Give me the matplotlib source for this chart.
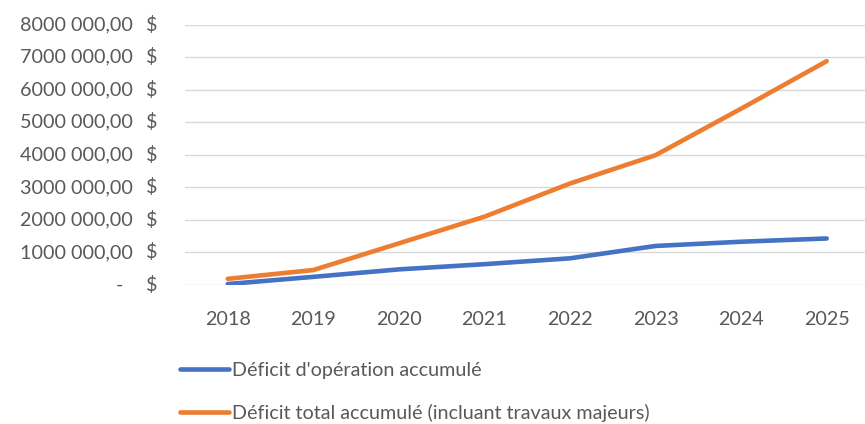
import matplotlib
matplotlib.use('Agg')
import matplotlib.pyplot as plt

years = ['2018', '2019', '2020', '2021', '2022', '2023', '2024', '2025']
deficit_operation = [30000, 250000, 480000, 640000, 820000, 1200000, 1330000, 1430000]
deficit_total = [190000, 460000, 1280000, 2100000, 3120000, 3990000, 5420000, 6880000]
series_labels = ["Déficit d'opération accumulé",
                 "Déficit total accumulé (incluant travaux majeurs)"]
y_ticks = [0, 1000000, 2000000, 3000000, 4000000, 5000000, 6000000, 7000000, 8000000]

TXT = '#595959'
FS = 14.2
plt.rcParams['font.family'] = ['Lato', 'DejaVu Sans']

fig = plt.figure(figsize=(8.65, 4.24), dpi=100)
ax = fig.add_axes([185 / 865, 139 / 424, (869.5 - 185) / 865, 260.3 / 424])

x = range(len(years))
l1, = ax.plot(x, deficit_operation, color='#4472C4', lw=3.3, solid_capstyle='round', label=series_labels[0])
l2, = ax.plot(x, deficit_total, color='#ED7D31', lw=3.3, solid_capstyle='round', label=series_labels[1])

ax.set_xlim(-0.5, len(years) - 0.5)
ax.set_ylim(0, 8000000)
ax.set_yticks(y_ticks)
ax.set_yticklabels([])
ax.yaxis.grid(True, color='#D9D9D9', lw=1.0)
ax.set_axisbelow(True)
ax.set_xticks(list(x))
ax.set_xticklabels(years, fontsize=FS, color=TXT)
ax.tick_params(axis='both', length=0)
ax.tick_params(axis='x', pad=19)
for s in ax.spines.values():
    s.set_visible(False)

# y labels in Excel accounting style: number, then "$" in its own column
for v in y_ticks:
    if v == 0:
        num = '-'
        off = -62
    else:
        num = f'{v // 1000000}000 000,00'
        off = -52
    ax.annotate(num, xy=(0, v), xycoords=('axes fraction', 'data'), xytext=(off, 0),
                textcoords='offset pixels', ha='right', va='center', fontsize=FS, color=TXT)
    ax.annotate('$', xy=(0, v), xycoords=('axes fraction', 'data'), xytext=(-28, 0),
                textcoords='offset pixels', ha='right', va='center', fontsize=FS, color=TXT)

fig.legend(handles=[l1, l2], loc='upper left', bbox_to_anchor=(170 / 865, 1 - 352 / 424),
           frameon=False, fontsize=FS, labelcolor=TXT, handlelength=2.5, handletextpad=0.15,
           labelspacing=1.25, borderpad=0)

fig.savefig('out.png', dpi=100)
